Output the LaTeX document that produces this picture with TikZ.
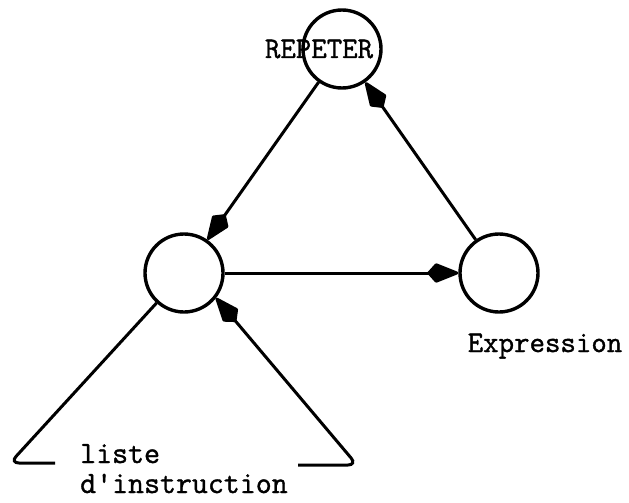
\documentclass[tikz,border=0pt]{standalone}
\usepackage{fontspec}
\newfontfamily\machine{Latin Modern Mono}[FakeBold=1.2]
\usetikzlibrary{arrows.meta,positioning}

\begin{document}
\begin{tikzpicture}[
    x=1pt, y=-1pt,
    cercle/.style={circle, draw=black, line width=3.4pt, minimum size=78pt, inner sep=0pt},
    arrow/.style={-{Kite[length=34pt, width=20pt, inset=9pt, round]}, line width=3pt},
    trait/.style={line width=3pt, rounded corners=9pt},
    etiquette/.style={font=\machine\fontsize{30}{30}\selectfont, inner sep=0pt}
]
\useasboundingbox (0,0) rectangle (629,503);

\node[cercle] (corps) at (184,273) {};
\node[cercle, on grid, right=315pt of corps] (expr) {};
\node[cercle, on grid, above right=224pt and 158pt of corps] (repeter) {};

\node[etiquette, anchor=base] (lrep) at (319,58) {REPETER};
\node[etiquette, anchor=base] (lexpr) at (545,352) {Expression};
\node[etiquette, anchor=base west, align=left, font=\machine\fontsize{31}{30}\selectfont] (liste) at (80,493) {liste\\d'instruction};

\coordinate (g1) at (10,463);
\coordinate (g2) at (55,463);
\coordinate (d1) at (298,465);
\coordinate (d2) at (357,465);

\draw[arrow] (repeter) -- (corps);
\draw[arrow] (corps) -- (expr);
\draw[arrow] (expr) -- (repeter);
\draw[trait] (corps) -- (g1) -- (g2);
\draw[arrow, rounded corners=9pt] (d1) -- (d2) -- (corps.-38);
\end{tikzpicture}
\end{document}
